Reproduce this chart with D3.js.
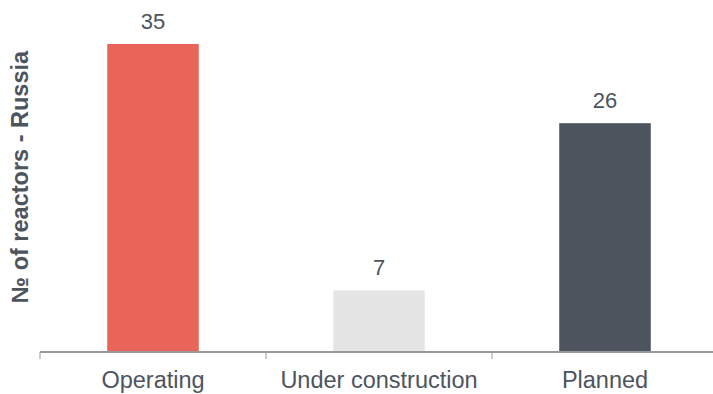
<!DOCTYPE html>
<html><head><meta charset="utf-8">
<script src="https://cdn.jsdelivr.net/npm/d3@7"></script>
<style>body{margin:0;background:#fff}svg{display:block;font-family:"Liberation Sans",Arial,sans-serif}</style>
</head><body>
<script>
const categories = ["Operating", "Under construction", "Planned"];
const values = [35, 7, 26];
const colors = ["#e9655a", "#e5e5e5", "#4d545e"];
const yTitle = "№ of reactors - Russia";

const W = 713, H = 394;
const svg = d3.select("body").append("svg").attr("width", W).attr("height", H);
const x = d3.scaleBand().domain(categories).range([40, 718]);
const y = d3.scaleLinear().domain([0, 35]).range([352, 44]);
const bw = x.bandwidth() * 0.405;

svg.selectAll("rect.bar").data(values).join("rect")
  .attr("x", (d, i) => x(categories[i]) + x.bandwidth() / 2 - bw / 2)
  .attr("y", d => y(d)).attr("width", bw).attr("height", d => y(0) - y(d))
  .attr("fill", (d, i) => colors[i]);

svg.selectAll("text.val").data(values).join("text")
  .attr("x", (d, i) => x(categories[i]) + x.bandwidth() / 2)
  .attr("y", d => y(d) - 15).attr("text-anchor", "middle")
  .attr("font-size", 22).attr("fill", "#4d545e").text(d => d);

const ax = svg.append("g").attr("transform", "translate(0,352)")
  .call(d3.axisBottom(x).tickSize(0).tickPadding(19));
ax.select(".domain").remove();
ax.selectAll("text").attr("font-size", 23.5).attr("fill", "#4d545e").attr("font-family", "Liberation Sans, Arial, sans-serif");
ax.append("line").attr("x1", 40).attr("x2", 718).attr("y1", 0).attr("y2", 0).attr("stroke", "#999").attr("stroke-width", 2);
[40, 266, 492, 718].forEach(t => ax.append("line").attr("x1", t).attr("x2", t).attr("y1", 0).attr("y2", 7).attr("stroke", "#999").attr("stroke-width", 1));

svg.append("text").attr("transform", "translate(28,177) rotate(-90)")
  .attr("text-anchor", "middle").attr("font-size", 23.5).attr("font-weight", "bold")
  .attr("fill", "#4d545e").text(yTitle);
</script>
</body></html>
